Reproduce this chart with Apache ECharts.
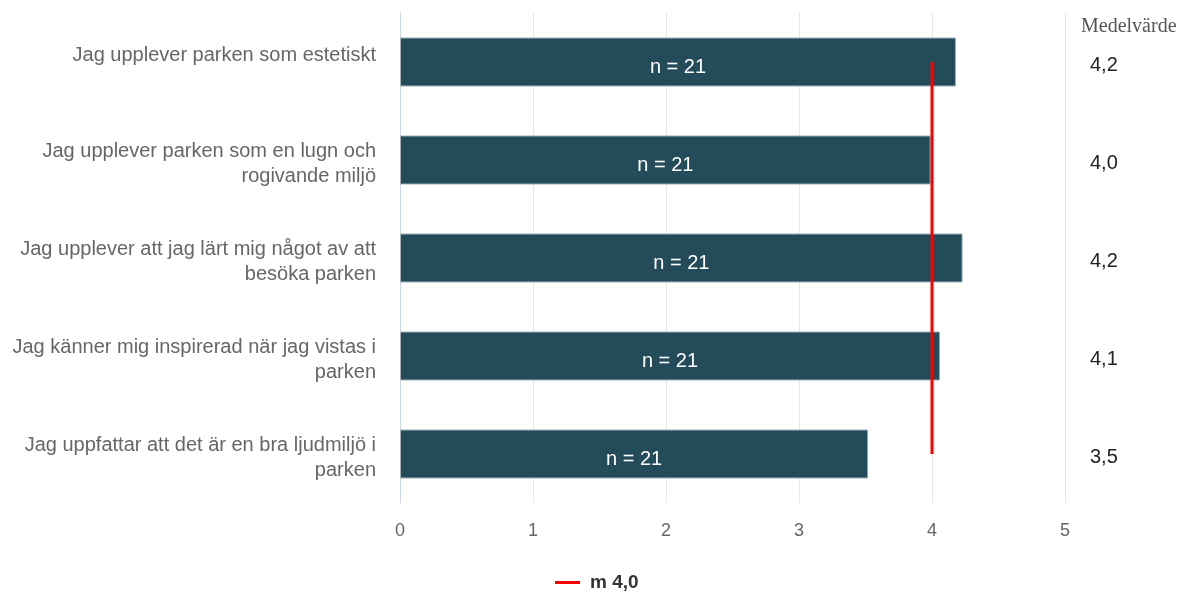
<!DOCTYPE html>
<html>
<head>
<meta charset="utf-8">
<title>Medelvärde</title>
<script src="https://cdn.jsdelivr.net/npm/echarts@6/dist/echarts.min.js"></script>
<style>
  html, body { margin: 0; padding: 0; background: #ffffff; }
  #chart { width: 1181px; height: 592px; }
</style>
</head>
<body>
<div id="chart"></div>
<script>
// Statements, top to bottom
const categories = [
  'Jag upplever parken som estetiskt',
  'Jag upplever parken som en lugn och\nrogivande miljö',
  'Jag upplever att jag lärt mig något av att\nbesöka parken',
  'Jag känner mig inspirerad när jag vistas i\nparken',
  'Jag uppfattar att det är en bra ljudmiljö i\nparken'
];
// Mean score per statement
const meanValues = [4.18, 3.99, 4.23, 4.06, 3.52];
// Number of respondents per statement
const respondents = [21, 21, 21, 21, 21];
// Overall mean shown as the red reference line
const overallMean = 4.0;
const xTicks = [0, 1, 2, 3, 4, 5];

const fmt = v => v.toFixed(1).replace('.', ',');
const meanName = 'm ' + fmt(overallMean);

const chart = echarts.init(document.getElementById('chart'), null, { renderer: 'canvas' });

const labelFont = 'Liberation Sans, Arial, sans-serif';

chart.setOption({
  animation: false,
  backgroundColor: '#ffffff',
  grid: { left: 400, right: 116, top: 13, bottom: 89, containLabel: false },
  graphic: [{
    type: 'text',
    left: 1081,
    top: 17,
    style: {
      text: 'Medelvärde',
      font: '20px "Liberation Serif", "DejaVu Serif", serif',
      fill: '#555555'
    }
  }],
  legend: {
    left: 550,
    top: 568,
    icon: 'rect',
    itemWidth: 25,
    itemHeight: 3,
    itemGap: 10,
    data: [meanName],
    textStyle: {
      fontFamily: labelFont, fontSize: 19, fontWeight: 'bold', color: '#333333',
      padding: [0, 0, 0, 5]
    }
  },
  xAxis: {
    type: 'value',
    min: xTicks[0],
    max: xTicks[xTicks.length - 1],
    interval: 1,
    axisLine: { show: false },
    axisTick: { show: false },
    axisLabel: {
      margin: 19,
      fontFamily: labelFont,
      fontSize: 18,
      color: '#666666',
      formatter: v => String(v)
    },
    splitLine: { show: true, lineStyle: { color: '#e6e6e6', width: 1 } }
  },
  yAxis: [{
    type: 'category',
    inverse: true,
    data: categories,
    axisLine: { show: true, lineStyle: { color: '#ccd6eb', width: 1 } },
    axisTick: { show: false },
    axisLabel: {
      margin: 24,
      align: 'right',
      fontFamily: labelFont,
      fontSize: 20,
      lineHeight: 25,
      color: '#666666',
      padding: [8, 0, 0, 0],
      formatter: (v, i) => i === 0 ? '{p|' + v + '}' : v,
      rich: {
        p: { fontFamily: labelFont, fontSize: 20, color: '#666666', padding: [0, 0, 22, 0] }
      }
    },
    splitLine: { show: false }
  }, {
    type: 'category',
    inverse: true,
    position: 'right',
    data: meanValues.map(fmt),
    axisLine: { show: false },
    axisTick: { show: false },
    axisLabel: {
      margin: 25,
      align: 'left',
      formatter: v => '{v|' + v + '}',
      rich: {
        v: { fontFamily: labelFont, fontSize: 20, color: '#222222', padding: [6, 0, 0, 0] }
      }
    },
    splitLine: { show: false }
  }],
  series: [{
    name: 'Medelvärde',
    type: 'bar',
    yAxisIndex: 0,
    data: meanValues,
    barWidth: 49,
    itemStyle: { color: '#234b5a', borderColor: '#9fb1b9', borderWidth: 1 },
    label: {
      show: true,
      position: 'inside',
      offset: [0, 5],
      formatter: p => 'n = ' + respondents[p.dataIndex],
      fontFamily: labelFont,
      fontSize: 20,
      color: '#ffffff'
    },
    emphasis: { disabled: true }
  }, {
    name: meanName,
    type: 'line',
    yAxisIndex: 0,
    data: categories.map((c, i) => [overallMean, i]),
    symbol: 'none',
    lineStyle: { color: '#ff0000', width: 3 },
    itemStyle: { color: '#ff0000' },
    z: 5
  }]
});
</script>
</body>
</html>
